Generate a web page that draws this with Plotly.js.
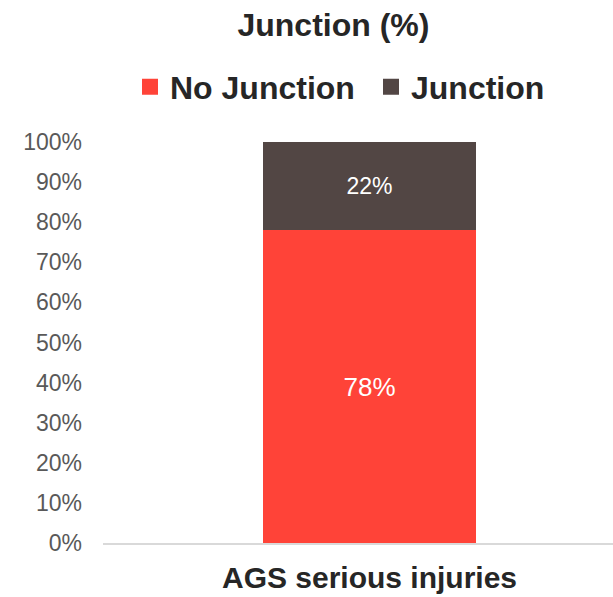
<!DOCTYPE html>
<html>
<head>
<meta charset="utf-8">
<script src="https://cdn.plot.ly/plotly-3.0.1.min.js"></script>
<style>html,body{margin:0;padding:0;background:#fff;}#chart{width:613px;height:597px;}</style>
</head>
<body>
<div id="chart"></div>
<script>
var categories = ['AGS serious injuries'];
var seriesNames = ['No Junction', 'Junction'];
var noJunction = [78];
var junction = [22];
var colors = ['#FF4338', '#524644'];
var yTickVals = [0, 10, 20, 30, 40, 50, 60, 70, 80, 90, 100];

var FONT = 'Liberation Sans, Arial, sans-serif';

var traces = [
  {
    type: 'bar', x: categories, y: noJunction, name: seriesNames[0],
    marker: {color: colors[0]}, width: 0.4,
    text: noJunction.map(function(v){return v + '%';}),
    textposition: 'inside', insidetextanchor: 'middle',
    textfont: {family: FONT, size: 26, color: '#ffffff'},
    hoverinfo: 'none', showlegend: false
  },
  {
    type: 'bar', x: categories, y: junction, name: seriesNames[1],
    marker: {color: colors[1]}, width: 0.4,
    text: junction.map(function(v){return v + '%';}),
    textposition: 'inside', insidetextanchor: 'middle',
    textfont: {family: FONT, size: 23, color: '#ffffff'},
    hoverinfo: 'none', showlegend: false
  },
  {
    type: 'scatter', mode: 'markers', x: [null], y: [null], name: seriesNames[0],
    marker: {symbol: 'square', size: 17, color: colors[0]}, showlegend: true, hoverinfo: 'none'
  },
  {
    type: 'scatter', mode: 'markers', x: [null], y: [null], name: seriesNames[1],
    marker: {symbol: 'square', size: 17, color: colors[1]}, showlegend: true, hoverinfo: 'none'
  }
];

var layout = {
  width: 613, height: 597,
  margin: {l: 103, r: 0, t: 142, b: 54},
  paper_bgcolor: '#ffffff', plot_bgcolor: '#ffffff',
  barmode: 'stack',
  font: {family: FONT},
  title: {
    text: 'Junction (%)',
    font: {family: FONT, size: 32, color: '#262626', weight: 'bold'},
    xref: 'container', x: 0.544, xanchor: 'center',
    yref: 'container', y: 1 - 25/597, yanchor: 'middle'
  },
  showlegend: true,
  legend: {
    orientation: 'h',
    traceorder: 'normal',
    entrywidth: 196,
    xref: 'container', x: 371/613, xanchor: 'center',
    yref: 'container', y: 1 - 87/597, yanchor: 'middle',
    font: {family: FONT, size: 32, color: '#262626', weight: 'bold'},
    itemclick: false, itemdoubleclick: false
  },
  xaxis: {
    type: 'category',
    range: [-0.5, 0.4568],
    showline: true, linecolor: '#d9d9d9', linewidth: 2,
    showgrid: false, zeroline: false, ticks: '',
    tickfont: {family: FONT, size: 30, color: '#262626', weight: 'bold'},
    ticklabelstandoff: 7,
    fixedrange: true
  },
  yaxis: {
    range: [0, 100],
    tickvals: yTickVals,
    ticktext: yTickVals.map(function(v){return v + '%';}),
    showline: false, showgrid: false, zeroline: false, ticks: '',
    tickfont: {family: FONT, size: 23, color: '#595959'},
    ticklabelstandoff: 20,
    fixedrange: true
  }
};

Plotly.newPlot('chart', traces, layout, {displayModeBar: false, staticPlot: true});
</script>
</body>
</html>
